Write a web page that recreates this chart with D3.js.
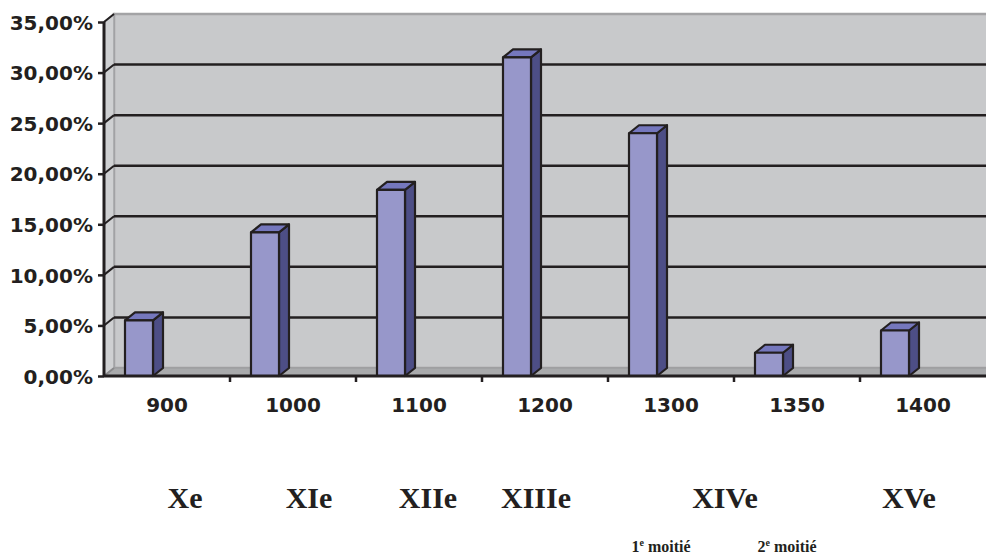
<!DOCTYPE html>
<html>
<head>
<meta charset="utf-8">
<script src="https://cdn.jsdelivr.net/npm/d3@7"></script>
<style>
  body { margin: 0; background: #fff; }
  svg { display: block; }
</style>
</head>
<body>
<svg id="chart"></svg>
<script>
var WIDTH = 986;
var HEIGHT = 556;

// years on the x axis and their share
var years = ["900", "1000", "1100", "1200", "1300", "1350", "1400"];
var shares = [5.5, 14.2, 18.4, 31.5, 24.0, 2.3, 4.5];
var yTicks = [0, 5, 10, 15, 20, 25, 30, 35];

// century labels under the axis, and the year each sits under
var centuries = ["Xe", "XIe", "XIIe", "XIIIe", "XIVe", "XVe"];
var centuryYears = ["900", "1000", "1100", "1200", "1300", "1400"];
var centuryShift = [18, 16, 9, -9, 54, -14]; // nudges, px
var halves = ["1", "2"];
var halfYears = ["1300", "1350"];

// plot box (not "top": that one is taken by window.top)
var pLeft = 104, pRight = 986, pTop = 22, pBottom = 376;
var DX = 10, DY = 8; // 3d depth

var ink = "#231f20";

var svg = d3.select("#chart")
    .attr("width", WIDTH)
    .attr("height", HEIGHT);

var x = d3.scaleBand().domain(years).range([pLeft, pRight]);
var y = d3.scaleLinear().domain([0, 35]).range([pBottom, pTop]);

//walls and floor
svg.append("polygon")
    .attr("points", [[pLeft + DX, y(35) - DY], [pRight + 5, y(35) - DY], [pRight + 5, y(0) - DY], [pLeft + DX, y(0) - DY]].join(" "))
    .attr("fill", "#c8c9cb")
    .attr("stroke", "#a3a3a5")
    .attr("stroke-width", 2.5);

svg.append("polygon")
    .attr("points", [[pLeft, y(35)], [pLeft + DX, y(35) - DY], [pLeft + DX, y(0) - DY], [pLeft, y(0)]].join(" "))
    .attr("fill", "#cfd0d2")
    .attr("stroke", "#a3a3a5")
    .attr("stroke-width", 1.5);

svg.append("polygon")
    .attr("points", [[pLeft, y(0)], [pLeft + DX, y(0) - DY], [pRight + 5, y(0) - DY], [pRight + 5, y(0)]].join(" "))
    .attr("fill", "#a9aaac")
    .attr("stroke", "#9a9a9c")
    .attr("stroke-width", 1);

//gridlines on the back wall + the bit on the side wall
var grid = svg.append("g");
grid.selectAll("line.g")
    .data(yTicks.filter(function(d) { return d > 0 && d < 35; }))
    .enter().append("line")
    .attr("x1", pLeft + DX).attr("x2", pRight + 5)
    .attr("y1", function(d) { return y(d) - DY; })
    .attr("y2", function(d) { return y(d) - DY; })
    .attr("stroke", ink).attr("stroke-width", 2.5);
grid.selectAll("line.d")
    .data(yTicks)
    .enter().append("line")
    .attr("x1", pLeft).attr("x2", pLeft + DX)
    .attr("y1", function(d) { return y(d); })
    .attr("y2", function(d) { return y(d) - DY; })
    .attr("stroke", function(d) { return d === 0 ? "#8a8a8c" : ink; })
    .attr("stroke-width", 2);

//bars
var barW = 28, barOff = 21;
var bars = svg.append("g").selectAll("g")
    .data(years.map(function(d, i) { return { year: d, v: shares[i] }; }))
    .enter().append("g")
    .attr("stroke", ink)
    .attr("stroke-width", 2.2)
    .attr("stroke-linejoin", "round");

bars.append("polygon") // side
    .attr("points", function(d) {
        var x0 = x(d.year) + barOff + barW;
        return [[x0, y(d.v)], [x0 + DX, y(d.v) - DY], [x0 + DX, y(0) - DY], [x0, y(0)]].join(" ");
    })
    .attr("fill", "#4d4e86");
bars.append("polygon") // top
    .attr("points", function(d) {
        var x0 = x(d.year) + barOff;
        return [[x0, y(d.v)], [x0 + DX, y(d.v) - DY], [x0 + barW + DX, y(d.v) - DY], [x0 + barW, y(d.v)]].join(" ");
    })
    .attr("fill", "#7577bd");
bars.append("rect") // front
    .attr("x", function(d) { return x(d.year) + barOff; })
    .attr("y", function(d) { return y(d.v); })
    .attr("width", barW)
    .attr("height", function(d) { return y(0) - y(d.v); })
    .attr("fill", "#9797ca");

//axes
var yAxis = svg.append("g")
    .attr("transform", "translate(" + pLeft + ",0)")
    .call(d3.axisLeft(y).tickValues(yTicks).tickSize(6).tickPadding(5)
        .tickFormat(function(d) { return d3.format(".2f")(d).replace(".", ",") + "%"; }));
yAxis.select(".domain").attr("d", "M0," + pTop + "V" + pBottom).attr("stroke", ink).attr("stroke-width", 3);
yAxis.selectAll(".tick line").attr("stroke", ink).attr("stroke-width", 2.5);
yAxis.selectAll(".tick text")
    .attr("fill", ink)
    .attr("dy", "0.36em")
    .style("font", "bold 20px 'DejaVu Sans', Verdana, sans-serif");

var xAxis = svg.append("g")
    .attr("transform", "translate(0," + pBottom + ")")
    .call(d3.axisBottom(x).tickSize(0).tickPadding(22));
xAxis.select(".domain").attr("d", "M" + pLeft + ",0H" + pRight).attr("stroke", ink).attr("stroke-width", 3);
xAxis.selectAll(".tick text")
    .attr("fill", ink)
    .style("font", "bold 20px 'DejaVu Sans', Verdana, sans-serif");
// ticks between categories
xAxis.selectAll("line.sep")
    .data(years.slice(1))
    .enter().append("line")
    .attr("x1", function(d) { return x(d); }).attr("x2", function(d) { return x(d); })
    .attr("y1", 0).attr("y2", 6)
    .attr("stroke", ink).attr("stroke-width", 2.5);

//century labels
svg.append("g").selectAll("text")
    .data(centuries)
    .enter().append("text")
    .attr("x", function(d, i) { return x(centuryYears[i]) + x.bandwidth() / 2 + centuryShift[i]; })
    .attr("y", 508)
    .attr("text-anchor", "middle")
    .attr("fill", ink)
    .style("font", "bold 30px 'Liberation Serif', 'Times New Roman', serif")
    .text(function(d) { return d; });

var half = svg.append("g").selectAll("text")
    .data(halves)
    .enter().append("text")
    .attr("x", function(d, i) { return x(halfYears[i]) + x.bandwidth() / 2 - 10; })
    .attr("y", 552)
    .attr("text-anchor", "middle")
    .attr("fill", ink)
    .style("font", "bold 16px 'Liberation Serif', 'Times New Roman', serif");
half.append("tspan").text(function(d) { return d; });
half.append("tspan").attr("dy", -6).style("font-size", "10px").text("e");
half.append("tspan").attr("dy", 6).text(" moitié");
</script>
</body>
</html>
